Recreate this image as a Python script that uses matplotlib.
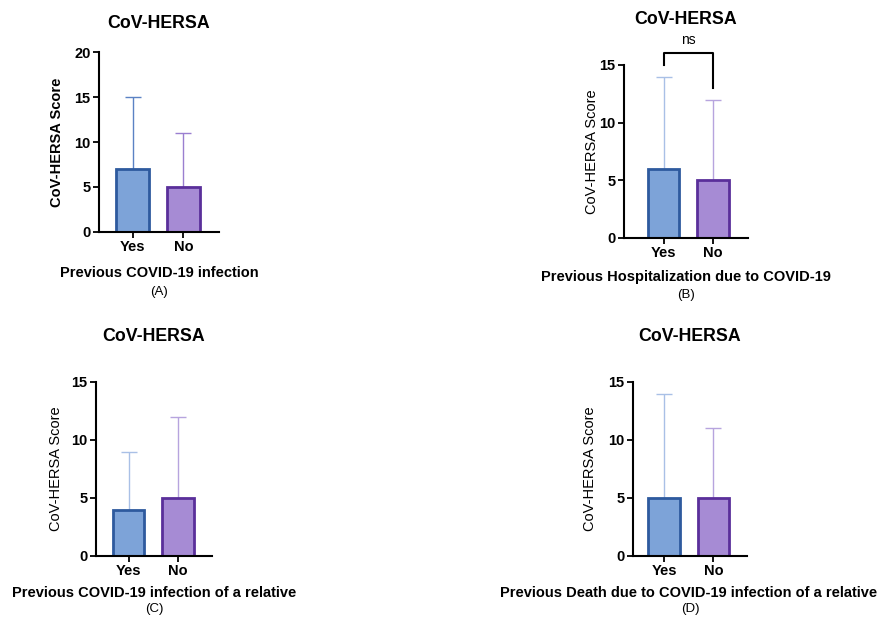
import matplotlib
matplotlib.use("Agg")
import matplotlib.pyplot as plt

plt.rcParams['font.family'] = ['Liberation Sans', 'DejaVu Sans']

groups = ['Yes', 'No']

# bar heights (median) and upper whisker for each panel
means_a = [7, 5]
upper_a = [15, 11]
means_b = [6, 5]
upper_b = [14, 12]
means_c = [4, 5]
upper_c = [9, 12]
means_d = [5, 5]
upper_d = [14, 11]

xlabels = ['Previous COVID-19 infection',
           'Previous Hospitalization due to COVID-19',
           'Previous COVID-19 infection of a relative',
           'Previous Death due to COVID-19 infection of a relative']
letters = ['(A)', '(B)', '(C)', '(D)']

fill_cols = ['#7da3d8', '#a68bd4']
edge_cols = ['#2e5a9e', '#5a2f9a']
err_dark = ['#5b82c4', '#9a7fd0']
err_light = ['#a9c0e6', '#b7a4de']

fig = plt.figure(figsize=(8.77, 6.17), dpi=100)

panels = [
    # rect, means, upper, ymax, xlim, title pad, ylabel weight, ylabel off, xlabel off, letter off, errcolors
    ([0.1129, 0.6240, 0.1368, 0.2917], means_a, upper_a, 20, (-0.66, 1.70), 17, 'bold', 30, 29.5, 43, err_dark),
    ([0.7115, 0.6143, 0.1414, 0.2804], means_b, upper_b, 15, (-0.80, 1.71), 29.5, 'normal', 23, 28, 41, err_light),
    ([0.1095, 0.0989, 0.1323, 0.2820], means_c, upper_c, 15, (-0.66, 1.69), 29.5, 'normal', 29, 26.6, 38.5, err_light),
    ([0.7218, 0.0989, 0.1300, 0.2820], means_d, upper_d, 15, (-0.63, 1.68), 29.5, 'normal', 31, 26.6, 38.5, err_light),
]

axes = []
for i, (rect, m, up, ymax, xl, tpad, ywt, yoff, xoff, loff, ecol) in enumerate(panels):
    ax = fig.add_axes(rect)
    axes.append(ax)
    x = list(range(len(groups)))
    for j in x:
        ax.errorbar(j, m[j], yerr=[[0], [up[j] - m[j]]], color=ecol[j],
                    elinewidth=1.0, capsize=6, capthick=1.0, zorder=1)
        ax.bar(j, m[j], width=0.64, color=fill_cols[j], edgecolor=edge_cols[j],
               linewidth=2.0, zorder=2)
    ax.set_xlim(*xl)
    ax.set_ylim(0, ymax)
    ax.set_yticks(range(0, ymax + 1, 5))
    ax.set_xticks(x)
    ax.set_xticklabels(groups)
    for s in ['top', 'right']:
        ax.spines[s].set_visible(False)
    for s in ['left', 'bottom']:
        ax.spines[s].set_linewidth(1.5)
    ax.tick_params(axis='both', length=4, width=1.3, labelsize=10.5, pad=2)
    for lab in ax.get_xticklabels() + ax.get_yticklabels():
        lab.set_fontweight('bold')
    ax.set_title('CoV-HERSA', fontsize=12.8, fontweight='bold', pad=tpad)
    ax.annotate('CoV-HERSA Score', xy=(0, 0.5), xycoords='axes fraction',
                xytext=(-yoff, 0), textcoords='offset points', rotation=90,
                ha='center', va='center', fontsize=10.5, fontweight=ywt)
    ax.annotate(xlabels[i], xy=(0.5, 0), xycoords='axes fraction',
                xytext=(-1 if i == 3 else 0, -xoff), textcoords='offset points',
                ha='center', va='center', fontsize=10.5, fontweight='bold')
    ax.annotate(letters[i], xy=(0.5, 0), xycoords='axes fraction',
                xytext=(0, -loff), textcoords='offset points',
                ha='center', va='center', fontsize=9.5)

# significance bracket on panel B
axb = axes[1]
top = 16.0
axb.plot([0, 0, 1, 1], [15, top, top, 13], color='black', linewidth=1.5,
         clip_on=False, zorder=3)
axb.text(0.5, top + 1.15, 'ns', ha='center', va='center', fontsize=10)

fig.savefig('out.png', dpi=100)
